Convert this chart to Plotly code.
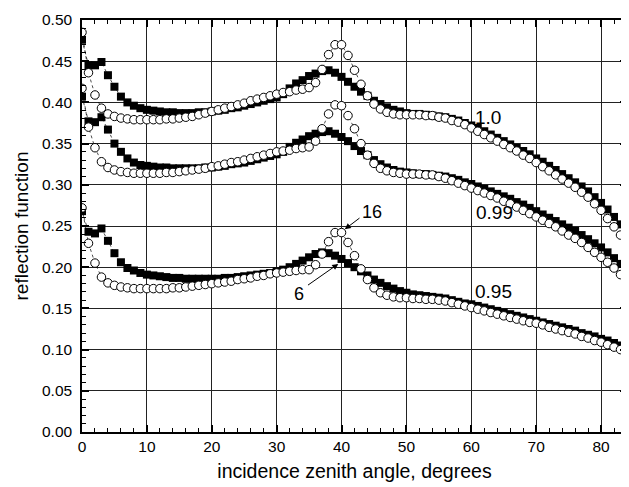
import plotly.graph_objects as go

angles = list(range(0, 85))

# albedo 1.0 : open circles (16) and filled squares (6)
c_100 = [0.485, 0.436, 0.409, 0.393, 0.386, 0.383, 0.381, 0.380, 0.379, 0.379,
         0.379, 0.379, 0.379, 0.380, 0.380, 0.381, 0.382, 0.383, 0.385, 0.387,
         0.389, 0.391, 0.393, 0.395, 0.397, 0.399, 0.402, 0.404, 0.406, 0.408,
         0.410, 0.412, 0.413, 0.415, 0.416, 0.418, 0.424, 0.440, 0.458, 0.470,
         0.470, 0.457, 0.439, 0.422, 0.408, 0.398, 0.392, 0.388, 0.386, 0.385,
         0.385, 0.385, 0.385, 0.384, 0.384, 0.382, 0.381, 0.378, 0.376, 0.373,
         0.369, 0.365, 0.361, 0.357, 0.353, 0.349, 0.345, 0.341, 0.336, 0.332,
         0.327, 0.322, 0.317, 0.312, 0.307, 0.302, 0.297, 0.291, 0.285, 0.277,
         0.269, 0.259, 0.249, 0.239, 0.229]
s_100 = [0.476, 0.445, 0.445, 0.449, 0.433, 0.419, 0.407, 0.400, 0.396, 0.393,
         0.391, 0.390, 0.389, 0.388, 0.388, 0.387, 0.387, 0.387, 0.388, 0.388,
         0.389, 0.390, 0.391, 0.393, 0.394, 0.396, 0.398, 0.400, 0.402, 0.404,
         0.406, 0.410, 0.417, 0.423, 0.427, 0.432, 0.435, 0.438, 0.439, 0.436,
         0.431, 0.425, 0.419, 0.413, 0.408, 0.402, 0.398, 0.394, 0.391, 0.389,
         0.387, 0.386, 0.386, 0.385, 0.384, 0.383, 0.382, 0.380, 0.378, 0.375,
         0.372, 0.369, 0.365, 0.361, 0.357, 0.353, 0.349, 0.345, 0.341, 0.337,
         0.332, 0.328, 0.323, 0.318, 0.313, 0.308, 0.303, 0.298, 0.292, 0.285,
         0.278, 0.270, 0.261, 0.252, 0.243]

# albedo 0.99
c_099 = [0.417, 0.370, 0.345, 0.328, 0.321, 0.318, 0.316, 0.315, 0.314, 0.314,
         0.314, 0.314, 0.314, 0.315, 0.315, 0.316, 0.317, 0.318, 0.319, 0.320,
         0.322, 0.323, 0.325, 0.327, 0.328, 0.330, 0.332, 0.334, 0.336, 0.338,
         0.340, 0.341, 0.342, 0.344, 0.345, 0.346, 0.353, 0.368, 0.386, 0.397,
         0.396, 0.384, 0.368, 0.350, 0.336, 0.326, 0.320, 0.317, 0.315, 0.314,
         0.313, 0.313, 0.313, 0.312, 0.312, 0.310, 0.308, 0.305, 0.302, 0.299,
         0.296, 0.293, 0.290, 0.287, 0.284, 0.280, 0.277, 0.273, 0.269, 0.265,
         0.261, 0.257, 0.253, 0.249, 0.244, 0.239, 0.235, 0.230, 0.224, 0.218,
         0.212, 0.206, 0.199, 0.191, 0.184]
s_099 = [0.407, 0.377, 0.376, 0.382, 0.367, 0.350, 0.340, 0.332, 0.327, 0.324,
         0.323, 0.322, 0.321, 0.321, 0.320, 0.320, 0.320, 0.320, 0.320, 0.321,
         0.321, 0.322, 0.323, 0.325, 0.326, 0.327, 0.329, 0.331, 0.333, 0.335,
         0.337, 0.340, 0.346, 0.351, 0.355, 0.359, 0.362, 0.364, 0.365, 0.362,
         0.358, 0.353, 0.347, 0.341, 0.336, 0.330, 0.325, 0.321, 0.318, 0.316,
         0.315, 0.314, 0.313, 0.313, 0.312, 0.311, 0.310, 0.308, 0.306, 0.303,
         0.301, 0.298, 0.295, 0.292, 0.289, 0.286, 0.283, 0.279, 0.276, 0.272,
         0.268, 0.264, 0.260, 0.256, 0.252, 0.248, 0.244, 0.239, 0.234, 0.229,
         0.224, 0.218, 0.211, 0.204, 0.197]

# albedo 0.95
c_095 = [0.272, 0.229, 0.205, 0.188, 0.181, 0.178, 0.176, 0.175, 0.174, 0.174,
         0.174, 0.174, 0.174, 0.174, 0.175, 0.175, 0.176, 0.177, 0.178, 0.179,
         0.180, 0.181, 0.182, 0.183, 0.185, 0.186, 0.187, 0.189, 0.190, 0.192,
         0.193, 0.194, 0.195, 0.196, 0.197, 0.197, 0.203, 0.216, 0.231, 0.242,
         0.242, 0.230, 0.214, 0.198, 0.185, 0.175, 0.169, 0.166, 0.164, 0.163,
         0.163, 0.162, 0.162, 0.161, 0.161, 0.160, 0.159, 0.157, 0.155, 0.153,
         0.151, 0.149, 0.147, 0.145, 0.143, 0.141, 0.139, 0.137, 0.135, 0.133,
         0.132, 0.130, 0.127, 0.125, 0.123, 0.121, 0.119, 0.116, 0.114, 0.111,
         0.109, 0.106, 0.103, 0.100, 0.096]
s_095 = [0.268, 0.243, 0.241, 0.247, 0.232, 0.217, 0.206, 0.199, 0.196, 0.193,
         0.191, 0.190, 0.189, 0.188, 0.187, 0.187, 0.186, 0.186, 0.186, 0.186,
         0.186, 0.186, 0.187, 0.187, 0.188, 0.189, 0.190, 0.191, 0.192, 0.193,
         0.195, 0.197, 0.200, 0.204, 0.208, 0.212, 0.216, 0.218, 0.217, 0.214,
         0.210, 0.205, 0.200, 0.195, 0.190, 0.185, 0.181, 0.177, 0.174, 0.171,
         0.169, 0.167, 0.166, 0.165, 0.164, 0.163, 0.162, 0.160, 0.158, 0.156,
         0.155, 0.153, 0.151, 0.149, 0.147, 0.145, 0.143, 0.141, 0.139, 0.137,
         0.135, 0.133, 0.131, 0.129, 0.127, 0.125, 0.123, 0.120, 0.118, 0.116,
         0.113, 0.111, 0.108, 0.105, 0.102]

x_ticks = [0, 10, 20, 30, 40, 50, 60, 70, 80]
y_ticks = [0.00, 0.05, 0.10, 0.15, 0.20, 0.25, 0.30, 0.35, 0.40, 0.45, 0.50]
y_tick_labels = ["0.00", "0.05", "0.10", "0.15", "0.20", "0.25",
                 "0.30", "0.35", "0.40", "0.45", "0.50"]

curve_labels = [("1.0", 60.2, 0.382), ("0.99", 60.4, 0.266), ("0.95", 60.3, 0.171)]

FONT = "Liberation Sans, Arial, sans-serif"

fig = go.Figure()

for s in (s_100, s_099, s_095):
    fig.add_trace(go.Scatter(
        x=angles, y=s, mode="lines+markers",
        line=dict(color="black", width=0.7, dash="dot"),
        marker=dict(symbol="square", size=8, color="black",
                    line=dict(width=0)),
        showlegend=False, hoverinfo="skip"))

for c in (c_100, c_099, c_095):
    fig.add_trace(go.Scatter(
        x=angles, y=c, mode="lines+markers",
        line=dict(color="black", width=0.7, dash="dot"),
        marker=dict(symbol="circle", size=8.5, color="white",
                    line=dict(color="black", width=1)),
        showlegend=False, hoverinfo="skip"))

for txt, xx, yy in curve_labels:
    fig.add_annotation(x=xx, y=yy, text=txt, showarrow=False,
                       xanchor="left", yanchor="middle",
                       font=dict(family=FONT, size=19, color="black"))

# "16" label with arrow
fig.add_annotation(x=42.9, y=0.267, text="16", showarrow=False,
                   xanchor="left", yanchor="middle",
                   font=dict(family=FONT, size=18, color="black"))
fig.add_annotation(x=40.5, y=0.246, ax=43.0, ay=0.261, axref="x", ayref="y",
                   xref="x", yref="y", text="", showarrow=True,
                   arrowhead=2, arrowsize=1.2, arrowwidth=1, arrowcolor="black")
# "6" label with arrow
fig.add_annotation(x=33.5, y=0.168, text="6", showarrow=False,
                   xanchor="center", yanchor="middle",
                   font=dict(family=FONT, size=18, color="black"))
fig.add_annotation(x=39.5, y=0.204, ax=34.6, ay=0.177, axref="x", ayref="y",
                   xref="x", yref="y", text="", showarrow=True,
                   arrowhead=2, arrowsize=1.2, arrowwidth=1, arrowcolor="black")

axis_common = dict(
    showgrid=True, gridcolor="#222222", gridwidth=1,
    showline=True, linecolor="black", linewidth=1.5,
    ticks="inside", ticklen=7, tickwidth=1.5, tickcolor="black",
    mirror="ticks", zeroline=False,
    tickfont=dict(family=FONT, size=15.5, color="black"),
)

fig.update_xaxes(
    range=[0, 84], tickvals=x_ticks,
    minor=dict(dtick=2, ticks="inside", ticklen=4, tickcolor="black",
               tickwidth=1, showgrid=False),
    title=dict(text="incidence zenith angle, degrees",
               font=dict(family=FONT, size=19.5, color="black"), standoff=10),
    **axis_common)
fig.update_yaxes(
    range=[0, 0.5], tickvals=y_ticks, ticktext=y_tick_labels,
    ticklabelstandoff=5,
    minor=dict(dtick=0.01, ticks="inside", ticklen=4, tickcolor="black",
               tickwidth=1, showgrid=False),
    title=dict(text="reflection function",
               font=dict(family=FONT, size=19, color="black"), standoff=8),
    **axis_common)

# page body has an 8px default margin, so the figure is sized to fit the window
fig.update_layout(
    width=621, height=479,
    margin=dict(l=74, r=0, t=12, b=55),
    paper_bgcolor="white", plot_bgcolor="white",
    font=dict(family=FONT, color="black"),
)

fig.write_html("out.html")
